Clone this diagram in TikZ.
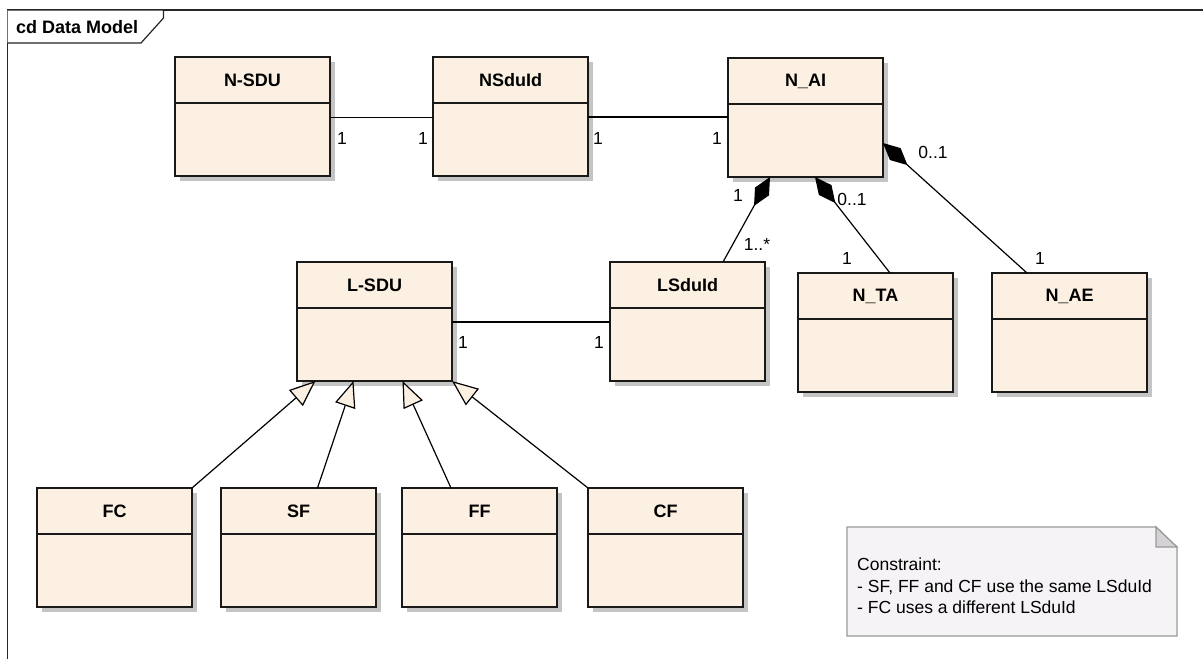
\documentclass[tikz,border=0pt]{standalone}
\usepackage{fontspec}
\setmainfont{Liberation Sans}
\usetikzlibrary{arrows.meta,shadows}
\definecolor{cream}{HTML}{FBF0E1}
\definecolor{notefill}{HTML}{F6F3F6}
\definecolor{notedraw}{HTML}{9A9A9A}
\definecolor{foldfill}{HTML}{D4D2D4}
\definecolor{shadowgray}{HTML}{C4C4C4}
\tikzset{
  clsbox/.style={draw=black!90, line width=1.3pt, fill=cream, rectangle, inner sep=0pt, outer sep=0pt,
    minimum width=155pt, minimum height=119pt,
    general shadow={fill=shadowgray, shadow xshift=5pt, shadow yshift=-5pt}},
  clsline/.style={draw=black!90, line width=1.3pt},
  clstitle/.style={font=\bfseries\fontsize{18}{20}\selectfont, inner sep=0pt},
  mult/.style={font=\fontsize{17.5}{20}\selectfont, inner sep=0pt},
  conn/.style={draw=black, line width=1.2pt},
  compo/.style={conn, {Diamond[length=33pt,width=16pt,fill=black]}-},
  gener/.style={conn, -{Triangle[length=26pt,width=21pt,fill=cream]}},
}
\newcommand\umlcls[4]{%
  \node[clsbox] (#1) at ({#2+77.5},{#3+59.5}) {};
  \draw[clsline] ([yshift=-46pt]#1.north west) -- ([yshift=-46pt]#1.north east);
  \node[clstitle] (#1-t) at ([yshift=-23pt]#1.north) {#4};
}
\begin{document}
\begin{tikzpicture}[x=1pt,y=-1pt]
\useasboundingbox (0,0) rectangle (1203,659);
% frame
\draw[black!85, line width=1.2pt] (7.5,659) -- (7.5,10) -- (1203,10);
\draw[black!85, line width=1.2pt, fill=white] (7.5,10) -- (163.5,10) -- (163.5,18) -- (141,43) -- (7.5,43);
\node[anchor=west, font=\bfseries\fontsize{18}{20}\selectfont, inner sep=0pt] (title) at (16,27.5) {cd Data Model};

% classes
\umlcls{nsdu}{175}{57}{N-SDU}
\umlcls{nsduid}{433}{57}{NSduId}
\umlcls{nai}{728}{58}{N\_AI}
\umlcls{lsdu}{297}{262}{L-SDU}
\umlcls{lsduid}{610}{262}{LSduId}
\umlcls{nta}{798}{273}{N\_TA}
\umlcls{nae}{992}{273}{N\_AE}
\umlcls{fc}{37}{488}{FC}
\umlcls{sf}{221}{488}{SF}
\umlcls{ff}{402}{488}{FF}
\umlcls{cf}{588}{488}{CF}

% associations
\draw[conn] ([yshift=-1pt]nsdu.east) -- ([yshift=-1pt]nsduid.east -| nsduid.west);
\draw[conn] ([yshift=-0.5pt]nsduid.east) -- ([yshift=-0.5pt]nsduid.east -| nai.west);
\draw[conn] ([yshift=-0.5pt]lsdu.east) -- ([yshift=-0.5pt]lsduid.west);

% compositions
\draw[compo] ([xshift=-35.5pt]nai.south) -- ([xshift=35.5pt]lsduid.north);
\draw[compo] ([xshift=9.5pt]nai.south) -- ([xshift=14.5pt]nta.north);
\draw[compo] ([yshift=-25.5pt]nai.east) -- ([xshift=-42.5pt]nae.north);

% generalizations
\draw[gener] (fc.north east) -- ([xshift=-59pt]lsdu.south);
\draw[gener] ([xshift=19pt]sf.north) -- ([xshift=-21pt]lsdu.south);
\draw[gener] ([xshift=-28.5pt]ff.north) -- ([xshift=28pt]lsdu.south);
\draw[gener] (cf.north west) -- (lsdu.south east);

% multiplicities
\node[mult] (m1) at (342,138) {1};
\node[mult] (m2) at (423,138) {1};
\node[mult] (m3) at (598,138) {1};
\node[mult] (m4) at (717,138) {1};
\node[mult] (m5) at (738,195) {1};
\node[mult] (m6) at (757,244) {1..*};
\node[mult] (m7) at (852,199) {0..1};
\node[mult] (m8) at (847,258) {1};
\node[mult] (m9) at (933,152) {0..1};
\node[mult] (m10) at (1040,258) {1};
\node[mult] (m11) at (463,342) {1};
\node[mult] (m12) at (599,342) {1};

% note
\draw[notedraw, line width=1.2pt, fill=notefill] (847,527) -- (1156,527) -- (1177,547) -- (1177,636) -- (847,636) -- cycle;
\draw[notedraw, line width=1.2pt, fill=foldfill] (1156,527) -- (1156,547) -- (1177,547) -- cycle;
\node[anchor=west, align=left, inner sep=0pt, font=\fontsize{17.5}{21.7}\selectfont] (note) at (857,586) {Constraint:\\- SF, FF and CF use the same LSduId\\- FC uses a different LSduId};
\end{tikzpicture}
\end{document}
